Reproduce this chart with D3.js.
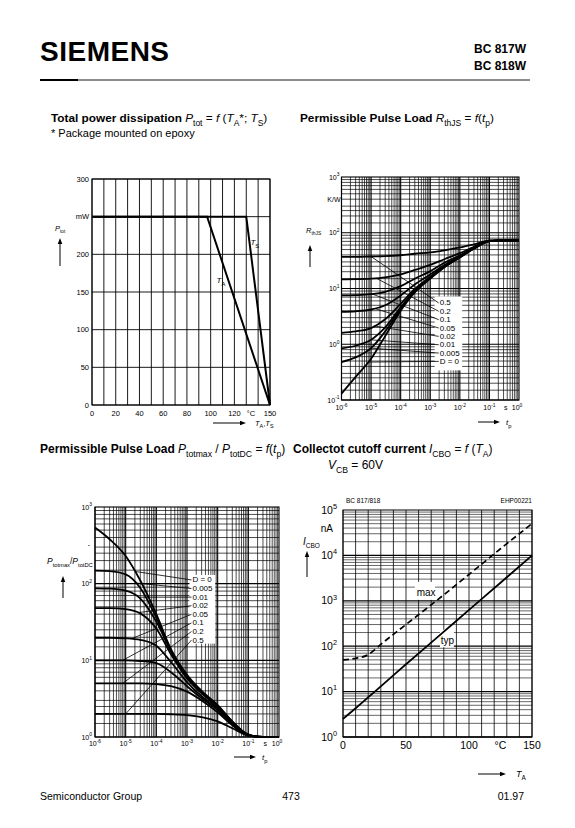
<!DOCTYPE html>
<html><head><meta charset="utf-8">
<script src="https://cdn.jsdelivr.net/npm/d3@7"></script>
<style>
body{margin:0;background:#fff}
svg{display:block}
text{font-family:"Liberation Sans",Arial,Helvetica,sans-serif;fill:#000}
</style></head>
<body><svg id="page" width="575" height="828"></svg>
<script>
// ================= DATA =================
// Chart 1: total power dissipation
const pdYTicks = [0, 50, 100, 150, 200, 250, 300];
const pdYLabels = ["0", "50", "100", "150", "200", "mW", "300"];
const pdXTicks = [0, 20, 40, 60, 80, 100, 120, 150];
const pdTempA = [0, 97, 150];
const pdPowerA = [250, 250, 0];
const pdTempS = [0, 130, 150];
const pdPowerS = [250, 250, 0];

// Chart 2 / 3: pulse times and duty cycles
const pulseTimes = [1e-6, 3e-6, 1e-5, 3e-5, 1e-4, 3e-4, 1e-3, 3e-3, 1e-2, 3e-2, 1e-1, 3e-1, 1];
const dutyLabels = ["D = 0", "0.005", "0.01", "0.02", "0.05", "0.1", "0.2", "0.5"];
const timeExponents = ["-6", "-5", "-4", "-3", "-2", "-1", "0"];

// Chart 2: R_thJS (K/W)
const rthD0    = [0.13, 0.26, 0.55, 1.4, 4.0, 8.5, 15, 24, 36, 52, 71, 73, 73];
const rthD0005 = [0.48, 0.58, 0.85, 1.7, 4.3, 8.8, 15.3, 24.2, 36.2, 52, 71, 73, 73];
const rthD001  = [0.84, 0.94, 1.2, 2.0, 4.6, 9.2, 15.6, 24.5, 36.4, 52.2, 71, 73, 73];
const rthD002  = [1.6, 1.7, 1.95, 2.8, 5.3, 9.8, 16.2, 25, 36.8, 52.5, 71, 73, 73];
const rthD005  = [3.8, 3.9, 4.2, 5.0, 7.5, 11.8, 17.8, 26.5, 37.7, 53, 71.5, 73, 73];
const rthD01   = [7.5, 7.6, 7.9, 8.7, 11, 15, 20.5, 29, 39.5, 54, 72, 73, 73];
const rthD02   = [14.6, 14.7, 15, 15.8, 18, 21.5, 26.5, 33.5, 43, 56, 72, 73, 73];
const rthD05   = [37, 37, 37.5, 38, 39.5, 42, 44.5, 48.5, 54.5, 62, 72, 73, 73];
const rthExponents = ["-1", "0", "1", "2", "3"];
const rthLeaderT = [8e-6, 1e-5, 1e-5, 1.3e-5, 1.3e-5, 1.1e-5, 1.5e-5, 1e-5];

// Chart 3: P_totmax / P_totDC
const prD0    = [540, 380, 230, 110, 40, 14, 6.5, 4.0, 2.6, 1.6, 1.08, 1.0, 1.0];
const prD0005 = [148, 146, 132, 88, 36, 13.5, 6.3, 3.9, 2.55, 1.58, 1.07, 1.0, 1.0];
const prD001  = [87, 86, 81, 64, 32, 13, 6.1, 3.8, 2.5, 1.56, 1.07, 1.0, 1.0];
const prD002  = [48, 48, 46.5, 41, 26, 12, 5.8, 3.7, 2.45, 1.54, 1.06, 1.0, 1.0];
const prD005  = [19.7, 19.7, 19.4, 18.5, 15.5, 9.5, 5.2, 3.4, 2.35, 1.5, 1.06, 1.0, 1.0];
const prD01   = [10, 10, 10, 9.8, 9.2, 7.0, 4.6, 3.2, 2.25, 1.47, 1.05, 1.0, 1.0];
const prD02   = [5, 5, 5, 5, 4.9, 4.6, 3.9, 3.0, 2.1, 1.42, 1.04, 1.0, 1.0];
const prD05   = [2, 2, 2, 2, 2, 1.98, 1.93, 1.82, 1.6, 1.3, 1.04, 1.0, 1.0];
const prExponents = ["0", "1", "2", "3"];
const prLeaderT = [2e-5, 2e-5, 2.5e-5, 2.5e-5, 1.5e-5, 8e-6, 8e-6, 1e-5];

// Chart 4: I_CBO vs T_A
const icboTemps = [0, 10, 20, 30, 50, 75, 100, 125, 150];
const icboTyp = [2.5, 4.3, 7.5, 13, 40, 158, 630, 2500, 10000];
const icboMax = [50, 54, 65, 110, 300, 1050, 3800, 14000, 50000];
const icboExponents = ["0", "1", "2", "3", "4", "5"];
const icboXTicks = [0, 50, 100, 150];

// ================= HELPERS =================
const svg = d3.select('#page');

function rich(g, x, y, parts, size, anchor, weight) {
  const t = g.append('text').attr('x', x).attr('y', y).attr('font-size', size)
    .attr('text-anchor', anchor || 'start').attr('font-weight', weight || 'normal');
  let shift = 0;
  parts.forEach(p => {
    const s = t.append('tspan').text(p.t);
    let target = 0;
    if (p.sub) target = size * 0.32;
    if (p.sup) target = -size * 0.45;
    const dy = target - shift;
    if (dy !== 0) s.attr('dy', dy);
    shift = target;
    if (p.sub || p.sup) s.attr('font-size', size * (p.ss || 0.72));
    if (p.i) s.attr('font-style', 'italic');
    if (p.b) s.attr('font-weight', 'bold');
    if (p.n) s.attr('font-weight', 'normal');
  });
  return t;
}
function pow10(g, x, y, exp, size, anchor) {
  return rich(g, x, y, [{t: '10'}, {t: exp, sup: true, ss: 0.7}], size, anchor);
}
function arrow(g, x1, y1, x2, y2, head, w) {
  head = head || 6; w = w || 1;
  const ang = Math.atan2(y2 - y1, x2 - x1);
  const bx = x2 - head * Math.cos(ang), by = y2 - head * Math.sin(ang);
  g.append('line').attr('x1', x1).attr('y1', y1).attr('x2', bx).attr('y2', by)
    .attr('stroke', '#000').attr('stroke-width', w);
  const hw = head * 0.38;
  const pts = [[x2, y2], [bx + hw * Math.sin(ang), by - hw * Math.cos(ang)], [bx - hw * Math.sin(ang), by + hw * Math.cos(ang)]];
  g.append('path').attr('d', d3.line()(pts) + 'Z').attr('fill', '#000');
}
function hline(g, x1, x2, y, w) {
  g.append('line').attr('x1', x1).attr('x2', x2).attr('y1', y).attr('y2', y)
    .attr('stroke', '#000').attr('stroke-width', w);
}
function vline(g, x, y1, y2, w) {
  g.append('line').attr('x1', x).attr('x2', x).attr('y1', y1).attr('y2', y2)
    .attr('stroke', '#000').attr('stroke-width', w);
}
function logInterp(xs, ys, t) {
  const lt = Math.log10(t);
  for (let i = 0; i < xs.length - 1; i++) {
    const a = Math.log10(xs[i]), b = Math.log10(xs[i + 1]);
    if (lt >= a && lt <= b) {
      const f = (lt - a) / (b - a);
      return Math.pow(10, Math.log10(ys[i]) + f * (Math.log10(ys[i + 1]) - Math.log10(ys[i])));
    }
  }
  return ys[0];
}
function logGrid(g, xs, ys, xDecades, yDecades, yMult, frame) {
  xDecades.forEach(e => {
    for (let k = 1; k <= 9; k++) {
      const v = k * Math.pow(10, e);
      vline(g, xs(v), frame.t, frame.b, k === 1 ? 1.1 : 0.7);
    }
  });
  yDecades.forEach(e => {
    yMult.forEach(k => {
      const v = k * Math.pow(10, e);
      hline(g, frame.l, frame.r, ys(v), k === 1 ? 1.1 : 0.7);
    });
  });
}

// ================= HEADER =================
const head = svg.append('g');
head.append('text').attr('x', 40).attr('y', 61).attr('font-size', 28).attr('font-weight', 'bold')
  .attr('letter-spacing', 0.5).text('SIEMENS');
head.append('text').attr('x', 526).attr('y', 53).attr('font-size', 12).attr('font-weight', 'bold')
  .attr('text-anchor', 'end').text('BC 817W');
head.append('text').attr('x', 526).attr('y', 70).attr('font-size', 12).attr('font-weight', 'bold')
  .attr('text-anchor', 'end').text('BC 818W');
hline(head, 40, 530, 80, 0.9);
hline(head, 40, 78, 80, 1.8);

rich(head, 51, 122, [
  {t: 'Total power dissipation ', b: true}, {t: 'P', i: true}, {t: 'tot', sub: true}, {t: ' = '},
  {t: 'f', i: true}, {t: ' ('}, {t: 'T', i: true}, {t: 'A', sub: true}, {t: '*; '}, {t: 'T', i: true},
  {t: 'S', sub: true}, {t: ')'}], 11.8);
head.append('text').attr('x', 51).attr('y', 137).attr('font-size', 11).text('* Package mounted on epoxy');
rich(head, 300, 122, [
  {t: 'Permissible Pulse Load ', b: true}, {t: 'R', i: true}, {t: 'thJS', sub: true}, {t: ' = '},
  {t: 'f', i: true}, {t: '('}, {t: 't', i: true}, {t: 'p', sub: true}, {t: ')'}], 11.8);
rich(head, 40, 453, [
  {t: 'Permissible Pulse Load ', b: true}, {t: 'P', i: true}, {t: 'totmax', sub: true}, {t: ' / '},
  {t: 'P', i: true}, {t: 'totDC', sub: true}, {t: ' = '}, {t: 'f', i: true}, {t: '('}, {t: 't', i: true},
  {t: 'p', sub: true}, {t: ')'}], 12);
rich(head, 293, 453, [
  {t: 'Collectot cutoff current ', b: true}, {t: 'I', i: true}, {t: 'CBO', sub: true}, {t: ' = '},
  {t: 'f', i: true}, {t: ' ('}, {t: 'T', i: true}, {t: 'A', sub: true}, {t: ')'}], 12);
rich(head, 328, 469, [{t: 'V', i: true}, {t: 'CB', sub: true}, {t: ' = 60V'}], 12);

// footer
head.append('text').attr('x', 40).attr('y', 800).attr('font-size', 10.5).text('Semiconductor Group');
head.append('text').attr('x', 291).attr('y', 800).attr('font-size', 10.5).attr('text-anchor', 'middle').text('473');
head.append('text').attr('x', 524).attr('y', 800).attr('font-size', 10.5).attr('text-anchor', 'end').text('01.97');

// ================= CHART 1 =================
{
  const f = {l: 92, r: 270, t: 179, b: 405};
  const g = svg.append('g');
  const x = d3.scaleLinear().domain([0, 150]).range([f.l, f.r]);
  const y = d3.scaleLinear().domain([0, 300]).range([f.b, f.t]);
  d3.range(0, 151, 10).forEach(v => vline(g, x(v), f.t, f.b, 0.9));
  pdYTicks.forEach(v => hline(g, f.l, f.r, y(v), 0.9));
  g.append('rect').attr('x', f.l).attr('y', f.t).attr('width', f.r - f.l).attr('height', f.b - f.t)
    .attr('fill', 'none').attr('stroke', '#000').attr('stroke-width', 1);
  pdYTicks.forEach((v, i) => g.append('text').attr('x', f.l - 3).attr('y', y(v) + 2.7)
    .attr('font-size', 7.5).attr('text-anchor', 'end').text(pdYLabels[i]));
  pdXTicks.forEach(v => g.append('text').attr('x', x(v)).attr('y', f.b + 11)
    .attr('font-size', 7.5).attr('text-anchor', 'middle').text(v));
  g.append('text').attr('x', x(134)).attr('y', f.b + 11).attr('font-size', 7.5)
    .attr('text-anchor', 'middle').text('°C');
  const line = d3.line().x(d => x(d[0])).y(d => y(d[1]));
  g.append('path').attr('d', line(pdTempA.map((t, i) => [t, pdPowerA[i]])))
    .attr('fill', 'none').attr('stroke', '#000').attr('stroke-width', 2);
  g.append('path').attr('d', line(pdTempS.map((t, i) => [t, pdPowerS[i]])))
    .attr('fill', 'none').attr('stroke', '#000').attr('stroke-width', 2);
  rich(g, x(133.5), y(212), [{t: 'T', i: true}, {t: 'S', sub: true}], 8);
  rich(g, x(105), y(162), [{t: 'T', i: true}, {t: 'A', sub: true}], 8);
  rich(g, 55, 231, [{t: 'P', i: true}, {t: 'tot', sub: true, ss: 0.62}], 7.5);
  arrow(g, 60, 266, 60, 238, 6, 1);
  arrow(g, 213, f.b + 18, 246, f.b + 18, 6, 1);
  rich(g, 255, f.b + 21, [{t: 'T', i: true}, {t: 'A', sub: true}, {t: ','}, {t: 'T', i: true}, {t: 'S', sub: true}], 7.5);
}

// ================= CHART 2 =================
{
  const f = {l: 341.5, r: 519, t: 177, b: 400};
  const g = svg.append('g');
  const x = d3.scaleLog().domain([1e-6, 1]).range([f.l, f.r]);
  const y = d3.scaleLog().domain([0.1, 1000]).range([f.b, f.t]);
  logGrid(g, x, y, [-6, -5, -4, -3, -2, -1], [-1, 0, 1, 2], [1, 1.5, 2, 2.5, 3, 4, 5, 6, 7, 8, 9], f);
  g.append('rect').attr('x', f.l).attr('y', f.t).attr('width', f.r - f.l).attr('height', f.b - f.t)
    .attr('fill', 'none').attr('stroke', '#000').attr('stroke-width', 1.1);
  // label box
  const bx = x(Math.pow(10, -2.85)), bx2 = x(Math.pow(10, -1.92));
  const by = y(7.2), by2 = y(0.34);
  g.append('rect').attr('x', bx).attr('y', by).attr('width', bx2 - bx).attr('height', by2 - by).attr('fill', '#fff');
  const series = [rthD0, rthD0005, rthD001, rthD002, rthD005, rthD01, rthD02, rthD05];
  const line = d3.line().x((d, i) => x(pulseTimes[i])).y(d => y(d)).curve(d3.curveMonotoneX);
  series.forEach(s => g.append('path').attr('d', line(s)).attr('fill', 'none')
    .attr('stroke', '#000').attr('stroke-width', 1.8));
  // labels top to bottom: 0.5 ... D = 0
  const rowY0 = by + 9, rowH = 8.35;
  for (let k = 0; k < 8; k++) {
    const idx = 7 - k;
    const ly = rowY0 + k * rowH;
    const lx = bx + 5;
    const sx = x(rthLeaderT[idx]), sy = y(logInterp(pulseTimes, series[idx], rthLeaderT[idx]));
    g.append('line').attr('x1', sx).attr('y1', sy).attr('x2', lx - 1).attr('y2', ly - 2.5)
      .attr('stroke', '#000').attr('stroke-width', 0.8);
    g.append('text').attr('x', lx).attr('y', ly).attr('font-size', 8).text(dutyLabels[idx]);
  }
  rthExponents.forEach(e => pow10(g, f.l - 2, y(Math.pow(10, +e)) + 2.5, e, 7, 'end'));
  g.append('text').attr('x', f.l - 1).attr('y', y(400) + 2.5).attr('font-size', 7).attr('text-anchor', 'end').text('K/W');
  timeExponents.forEach(e => pow10(g, x(Math.pow(10, +e)) - (e === '0' ? 2 : 0), f.b + 10, e, 7, 'middle'));
  g.append('text').attr('x', x(Math.pow(10, -0.45))).attr('y', f.b + 10).attr('font-size', 7).attr('text-anchor', 'middle').text('s');
  rich(g, 306, 233, [{t: 'R', i: true}, {t: 'thJS', sub: true, ss: 0.65}], 7.5);
  arrow(g, 310, 267, 310, 245, 6, 1);
  arrow(g, 478, f.b + 22, 500, f.b + 22, 6, 1);
  rich(g, 506, f.b + 25, [{t: 't', i: true}, {t: 'p', sub: true}], 8);
}

// ================= CHART 3 =================
{
  const f = {l: 95, r: 279, t: 507, b: 737};
  const g = svg.append('g');
  const x = d3.scaleLog().domain([1e-6, 1]).range([f.l, f.r]);
  const y = d3.scaleLog().domain([1, 1000]).range([f.b, f.t]);
  logGrid(g, x, y, [-6, -5, -4, -3, -2, -1], [0, 1, 2], [1, 1.5, 2, 2.5, 3, 4, 5, 6, 7, 8, 9], f);
  g.append('rect').attr('x', f.l).attr('y', f.t).attr('width', f.r - f.l).attr('height', f.b - f.t)
    .attr('fill', 'none').attr('stroke', '#000').attr('stroke-width', 1.1);
  const bx = x(Math.pow(10, -2.92)), bx2 = x(Math.pow(10, -2.08));
  const by = y(130), by2 = y(16.5);
  g.append('rect').attr('x', bx).attr('y', by).attr('width', bx2 - bx).attr('height', by2 - by).attr('fill', '#fff');
  const series = [prD0, prD0005, prD001, prD002, prD005, prD01, prD02, prD05];
  const line = d3.line().x((d, i) => x(pulseTimes[i])).y(d => y(d)).curve(d3.curveMonotoneX);
  series.forEach(s => g.append('path').attr('d', line(s)).attr('fill', 'none')
    .attr('stroke', '#000').attr('stroke-width', 1.8));
  const rowY0 = by + 7.5, rowH = 8.6;
  for (let k = 0; k < 8; k++) {
    const ly = rowY0 + k * rowH;
    const lx = bx + 3;
    const sx = x(prLeaderT[k]), sy = y(logInterp(pulseTimes, series[k], prLeaderT[k]));
    g.append('line').attr('x1', sx).attr('y1', sy).attr('x2', lx - 1).attr('y2', ly - 2.5)
      .attr('stroke', '#000').attr('stroke-width', 0.8);
    g.append('text').attr('x', lx).attr('y', ly).attr('font-size', 8).text(dutyLabels[k]);
  }
  prExponents.forEach(e => pow10(g, f.l - 3, y(Math.pow(10, +e)) + 2.5, e, 7, 'end'));
  g.append('text').attr('x', 89).attr('y', 547).attr('font-size', 7).attr('text-anchor', 'middle').text('-');
  timeExponents.forEach(e => pow10(g, x(Math.pow(10, +e)) - (e === '0' ? 2 : 0), f.b + 9, e, 7, 'middle'));
  g.append('text').attr('x', x(Math.pow(10, -0.45))).attr('y', f.b + 9).attr('font-size', 7).attr('text-anchor', 'middle').text('s');
  rich(g, 47, 564, [{t: 'P', i: true}, {t: 'totmax', sub: true, ss: 0.68}, {t: '/'}, {t: 'P', i: true}, {t: 'totDC', sub: true, ss: 0.68}], 8.5);
  arrow(g, 63, 598, 63, 576, 6, 1);
  arrow(g, 234, f.b + 20, 256, f.b + 20, 6, 1);
  rich(g, 262, f.b + 23, [{t: 't', i: true}, {t: 'p', sub: true}], 8);
}

// ================= CHART 4 =================
{
  const f = {l: 343, r: 532, t: 510, b: 737};
  const g = svg.append('g');
  const x = d3.scaleLinear().domain([0, 150]).range([f.l, f.r]);
  const y = d3.scaleLog().domain([1, 1e5]).range([f.b, f.t]);
  d3.range(0, 151, 10).forEach(v => vline(g, x(v), f.t, f.b, 0.8));
  [0, 1, 2, 3, 4].forEach(e => {
    for (let k = 1; k <= 9; k++) hline(g, f.l, f.r, y(k * Math.pow(10, e)), k === 1 ? 1.3 : 0.6);
  });
  g.append('rect').attr('x', f.l).attr('y', f.t).attr('width', f.r - f.l).attr('height', f.b - f.t)
    .attr('fill', 'none').attr('stroke', '#000').attr('stroke-width', 1);
  // label boxes
  g.append('rect').attr('x', x(57)).attr('y', y(2600)).attr('width', x(73) - x(57)).attr('height', y(1050) - y(2600)).attr('fill', '#fff');
  g.append('rect').attr('x', x(77)).attr('y', y(230)).attr('width', x(88) - x(77)).attr('height', y(95) - y(230)).attr('fill', '#fff');
  const line = d3.line().x((d, i) => x(icboTemps[i])).y(d => y(d)).curve(d3.curveMonotoneX);
  g.append('path').attr('d', line(icboMax)).attr('fill', 'none').attr('stroke', '#000')
    .attr('stroke-width', 1.7).attr('stroke-dasharray', '6,3.5');
  g.append('path').attr('d', line(icboTyp)).attr('fill', 'none').attr('stroke', '#000')
    .attr('stroke-width', 1.8);
  g.append('text').attr('x', x(58.5)).attr('y', y(1250)).attr('font-size', 10).text('max');
  g.append('text').attr('x', x(77.5)).attr('y', y(112)).attr('font-size', 10).text('typ');
  icboExponents.forEach(e => pow10(g, f.l - 6, y(Math.pow(10, +e)) + 3.5, e, 10.5, 'end'));
  icboXTicks.forEach(v => g.append('text').attr('x', x(v)).attr('y', f.b + 12).attr('font-size', 10.5)
    .attr('text-anchor', 'middle').text(v));
  g.append('text').attr('x', x(125)).attr('y', f.b + 12).attr('font-size', 10.5).attr('text-anchor', 'middle').text('°C');
  g.append('text').attr('x', f.l + 3).attr('y', 503).attr('font-size', 6.5).attr('font-family', '"DejaVu Sans Mono",monospace').text('BC 817/818');
  g.append('text').attr('x', f.r).attr('y', 503).attr('font-size', 6.5).attr('text-anchor', 'end').attr('font-family', '"DejaVu Sans Mono",monospace').text('EHP00221');
  g.append('text').attr('x', 333).attr('y', 532).attr('font-size', 10).attr('text-anchor', 'end').text('nA');
  rich(g, 303, 545, [{t: 'I', i: true}, {t: 'CBO', sub: true, ss: 0.65}], 10);
  arrow(g, 307, 577, 307, 551, 6, 1);
  arrow(g, 478, 774, 506, 774, 6, 1);
  rich(g, 516, 777, [{t: 'T', i: true}, {t: 'A', sub: true}], 9);
}
</script>
</body></html>
